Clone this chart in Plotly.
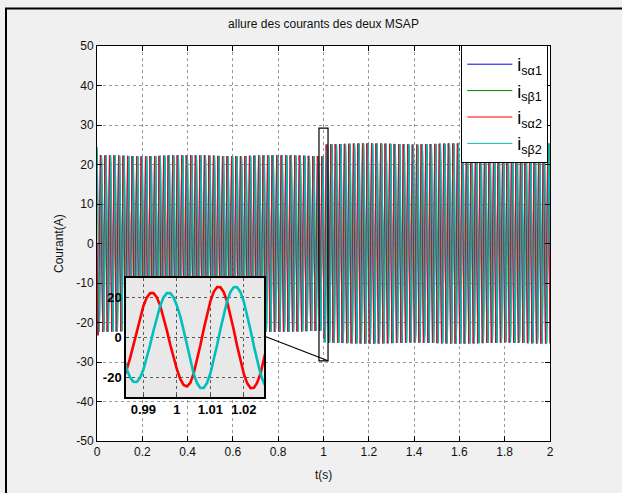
import numpy as np
import plotly.graph_objects as go

# ---- signal description (stator currents of the two PMSMs) ----
t_end = 2.0
dt = 1e-3                   # solver output step
freq_hz = 50.125            # electrical frequency
amp_start = 24.4            # first half-wave at start-up
amp_before = 22.3           # steady amplitude before the load step
amp_after = 25.3            # steady amplitude after the load step
step_time = 1.0
rise_time = 0.004

# ---- axes / annotations ----
x_range = [0, 2]
y_range = [-50, 50]
x_ticks = [0, 0.2, 0.4, 0.6, 0.8, 1, 1.2, 1.4, 1.6, 1.8, 2]
y_ticks = [-50, -40, -30, -20, -10, 0, 10, 20, 30, 40, 50]
inset_x_range = [0.9848, 1.026]
inset_y_range = [-29.5, 29.5]
inset_x_ticks = [0.99, 1, 1.01, 1.02]
inset_x_labels = ["0.99", "1", "1.01", "1.02"]
inset_y_ticks = [-20, 0, 20]
zoom_box_x = [0.980, 1.020]
zoom_box_y = [-29.7, 29.2]

names = ["i<sub>sα1</sub>", "i<sub>sβ1</sub>", "i<sub>sα2</sub>", "i<sub>sβ2</sub>"]
colors = ["#0000ff", "#008000", "#ff0000", "#00bfbf"]

t = np.arange(0, t_end + dt / 2, dt)
w = 2 * np.pi * freq_hz
ramp = np.clip((t - step_time) / rise_time, 0, 1)
amp = amp_before + (amp_after - amp_before) * ramp
amp = np.where(t < 0.25 / freq_hz, amp_start, amp)
i_alpha = -amp * np.sin(w * t)
i_beta = amp * np.cos(w * t)
series = [i_alpha, i_beta, i_alpha.copy(), i_beta.copy()]


def label(v):
    # plain hyphen-minus for negative tick values
    return f"{v:g}"


fig = go.Figure()
for name, col, y in zip(names, colors, series):
    fig.add_trace(go.Scatter(x=t, y=y, mode="lines", name=name,
                             line=dict(color=col, width=1), hoverinfo="skip"))

# inset: shaded background then the two motor-2 currents
ix0, ix1 = inset_x_range
iy0, iy1 = inset_y_range
fig.add_trace(go.Scatter(x=[ix0, ix1, ix1, ix0, ix0], y=[iy0, iy0, iy1, iy1, iy0],
                         mode="lines", fill="toself", fillcolor="rgba(0,0,0,0.09)",
                         line=dict(width=0), xaxis="x2", yaxis="y2",
                         showlegend=False, hoverinfo="skip"))
win = (t >= ix0 - 0.003) & (t <= ix1 + 0.003)
for col, y in [(colors[2], series[2]), (colors[3], series[3])]:
    fig.add_trace(go.Scatter(x=t[win], y=y[win], mode="lines",
                             line=dict(color=col, width=2.6), xaxis="x2", yaxis="y2",
                             showlegend=False, hoverinfo="skip"))

W, H = 622, 493
L, R, T, B = 97, 72, 46, 52
pw, ph = W - L - R, H - T - B


def px_x(px):
    return (px - L) / pw


def px_y(py):
    return (H - B - py) / ph


def data_x(v):
    return (v - x_range[0]) / (x_range[1] - x_range[0])


def data_y(v):
    return (v - y_range[0]) / (y_range[1] - y_range[0])


font = "Liberation Sans, Arial, sans-serif"
axis_common = dict(showline=True, linecolor="black", linewidth=1, mirror="ticks",
                   ticks="inside", ticklen=5, tickcolor="black", zeroline=False,
                   showgrid=True, gridcolor="#9a9a9a", griddash="dot", gridwidth=1,
                   tickfont=dict(family=font, size=12, color="#111"))
inset_font = dict(family=font, size=13, color="black", weight="bold")

fig.update_layout(
    width=W, height=H,
    margin=dict(l=L, r=R, t=T, b=B),
    paper_bgcolor="#f0f0f0", plot_bgcolor="white",
    xaxis=dict(range=x_range, tickvals=x_ticks, ticktext=[label(v) for v in x_ticks],
               **axis_common),
    yaxis=dict(range=y_range, tickvals=y_ticks, ticktext=[label(v) for v in y_ticks],
               **axis_common),
    xaxis2=dict(domain=[px_x(126), px_x(264)], anchor="y2", range=inset_x_range,
                tickvals=inset_x_ticks, ticktext=inset_x_labels,
                showline=True, linecolor="black", linewidth=1.5, mirror=True,
                ticks="inside", ticklen=3, zeroline=False, showgrid=True,
                gridcolor="#666", griddash="dot", tickfont=inset_font),
    yaxis2=dict(domain=[px_y(397), px_y(278)], anchor="x2", range=inset_y_range,
                tickvals=inset_y_ticks, ticktext=[label(v) for v in inset_y_ticks],
                showline=True, linecolor="black", linewidth=1.5, mirror=True,
                ticks="inside", ticklen=3, zeroline=False, showgrid=True,
                gridcolor="#666", griddash="dot", tickfont=inset_font),
    title=dict(text="allure des courants des deux MSAP", x=px_x(323.5), xref="paper",
               xanchor="center", y=1 - 24 / H, yref="container", yanchor="middle",
               font=dict(family=font, size=12, color="#111")),
    legend=dict(x=px_x(548.3), y=px_y(45), xanchor="right", yanchor="top",
                bgcolor="white", bordercolor="black", borderwidth=1,
                font=dict(family=font, size=18, color="black"),
                itemwidth=45, tracegroupgap=0),
    annotations=[
        dict(text="t(s)", x=px_x(323.5), y=px_y(475), xref="paper", yref="paper",
             showarrow=False, xanchor="center", yanchor="middle",
             font=dict(family=font, size=12, color="#111")),
        dict(text="Courant(A)", x=px_x(59), y=px_y(244), xref="paper", yref="paper",
             showarrow=False, textangle=-90, xanchor="center", yanchor="middle",
             font=dict(family=font, size=12, color="#111")),
    ],
    shapes=[
        # zoom window on the main axes
        dict(type="rect", xref="x", yref="y", x0=zoom_box_x[0], x1=zoom_box_x[1],
             y0=zoom_box_y[0], y1=zoom_box_y[1], line=dict(color="black", width=1.2),
             layer="above"),
        # connector from the inset to the zoom window
        dict(type="line", xref="paper", yref="paper", x0=px_x(264), y0=px_y(336),
             x1=data_x(zoom_box_x[1]), y1=data_y(zoom_box_y[0]),
             line=dict(color="black", width=1.2), layer="above"),
        # outer figure frame
        dict(type="line", xref="paper", yref="paper", x0=px_x(5), x1=px_x(640),
             y0=px_y(8.5), y1=px_y(8.5), line=dict(color="black", width=2)),
        dict(type="line", xref="paper", yref="paper", x0=px_x(6), x1=px_x(6),
             y0=px_y(8), y1=px_y(520), line=dict(color="black", width=2)),
    ],
)

fig.write_html("out.html")
